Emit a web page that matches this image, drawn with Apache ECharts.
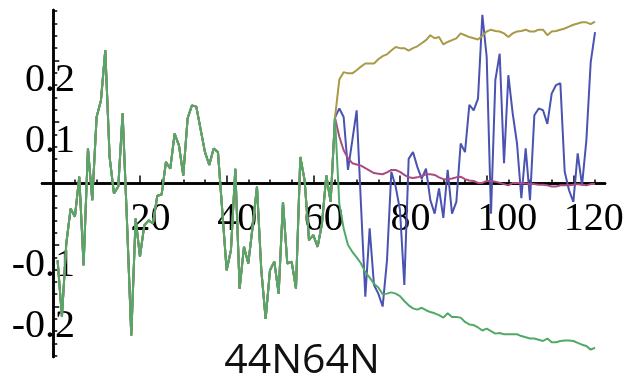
<!DOCTYPE html>
<html>
<head>
<meta charset="utf-8">
<script src="https://cdn.jsdelivr.net/npm/echarts@6/dist/echarts.min.js"></script>
<style>
  html, body { margin: 0; padding: 0; background: #fff; }
  #chart { width: 627px; height: 380px; }
</style>
</head>
<body>
<div id="chart"></div>
<script>
// Shared values for steps 1..65 (all four series coincide here)
const commonValues = [
  -0.125, -0.217, -0.098, -0.041, -0.054, 0.011, -0.133, 0.057, -0.027, 0.108,
  0.135, 0.217, 0.043, -0.016, -0.005, 0.114, -0.060, -0.247, -0.057, -0.119,
  -0.068, -0.060, -0.065, -0.020, -0.018, 0.035, 0.024, 0.081, 0.062, 0.013,
  0.106, 0.127, 0.125, 0.088, 0.051, 0.030, 0.057, 0.051, -0.045, -0.141,
  -0.108, 0.024, -0.171, -0.103, -0.130, -0.070, -0.005, -0.141, -0.220, -0.141,
  -0.127, -0.179, -0.030, -0.130, -0.127, -0.171, 0.043, 0.005, -0.092, -0.084,
  -0.103, -0.065, 0.013, -0.030, 0.107
];

// Steps 66..125 for each series
const blueTail = [
  0.122, 0.108, 0.022, 0.070, 0.119, -0.035, -0.184, -0.073, -0.165, -0.179,
  -0.200, -0.125, 0.019, -0.005, -0.043, -0.165, 0.040, 0.051, 0.027, 0.008,
  0.024, -0.027, -0.049, -0.008, -0.056, 0.022, -0.049, -0.030, 0.065, 0.051,
  0.128, 0.119, 0.138, 0.274, 0.206, -0.049, 0.168, 0.211, 0.033, 0.176,
  0.114, 0.065, -0.024, 0.057, -0.027, 0.111, 0.122, 0.119, 0.097, 0.146,
  0.160, 0.163, 0.019, -0.011, -0.030, 0.049, -0.003, 0.070, 0.197, 0.246
];
const magentaTail = [
  0.076, 0.054, 0.041, 0.033, 0.031, 0.029, 0.025, 0.021, 0.017, 0.016,
  0.015, 0.018, 0.022, 0.022, 0.019, 0.014, 0.010, 0.009, 0.010, 0.012,
  0.015, 0.015, 0.014, 0.010, 0.007, 0.007, 0.008, 0.010, 0.011, 0.007,
  0.005, 0.004, 0.001, 0.001, 0.004, 0.004, 0.003, 0.001, -0.001, -0.003,
  0.001, 0.001, 0.001, 0.000, -0.001, -0.001, -0.002, -0.002, -0.003, -0.005,
  -0.005, -0.003, -0.003, -0.003, -0.002, -0.001, -0.002, -0.003, -0.001, -0.001
];
const oliveTail = [
  0.169, 0.181, 0.179, 0.179, 0.184, 0.190, 0.195, 0.195, 0.195, 0.202,
  0.207, 0.210, 0.216, 0.222, 0.220, 0.220, 0.216, 0.220, 0.223, 0.228,
  0.233, 0.241, 0.236, 0.238, 0.226, 0.230, 0.233, 0.236, 0.244, 0.241,
  0.238, 0.236, 0.234, 0.240, 0.247, 0.250, 0.248, 0.247, 0.244, 0.238,
  0.244, 0.247, 0.248, 0.250, 0.247, 0.247, 0.250, 0.250, 0.241, 0.247,
  0.248, 0.250, 0.252, 0.255, 0.258, 0.260, 0.262, 0.262, 0.259, 0.263
];
const greenTail = [
  -0.033, -0.073, -0.100, -0.111, -0.120, -0.130, -0.144, -0.153, -0.163, -0.169,
  -0.180, -0.179, -0.177, -0.179, -0.183, -0.191, -0.198, -0.203, -0.205, -0.202,
  -0.206, -0.209, -0.211, -0.214, -0.218, -0.211, -0.217, -0.217, -0.218, -0.225,
  -0.229, -0.230, -0.234, -0.239, -0.236, -0.240, -0.244, -0.243, -0.245, -0.245,
  -0.245, -0.245, -0.248, -0.250, -0.252, -0.252, -0.254, -0.256, -0.252, -0.258,
  -0.258, -0.256, -0.255, -0.255, -0.256, -0.259, -0.262, -0.264, -0.270, -0.267
];

// Tick labels
const xTickLabels = [20, 40, 60, 80, 100, 120];
const yTickLabels = [-0.2, -0.1, 0.1, 0.2];
const chartTitle = '44N64N';

const seriesColors = ['#4a52b2', '#a84c82', '#a99a48', '#52a866'];

function toPairs(tail) {
  return commonValues.concat(tail).map((v, i) => [i + 1, v]);
}

// Minor tick positions
const xMinor = [];
for (let v = 5; v <= 125; v += 5) if (v % 20 !== 0) xMinor.push(v);
const yMinor = [];
for (let k = -14; k <= 14; k++) if (k !== 0 && k % 5 !== 0) yMinor.push(k / 50);

const X_MIN = -2.6, X_MAX = 127.3, Y_MIN = -0.282, Y_MAX = 0.282;
const axisColor = '#000';
const labelFont = {
  fontFamily: 'Liberation Serif',
  fontSize: 40,
  lineHeight: 40,
  color: '#000'
};

const chart = echarts.init(document.getElementById('chart'), null, { renderer: 'canvas' });
chart.setOption({
  animation: false,
  backgroundColor: '#fff',
  title: {
    text: chartTitle,
    left: 302,
    top: 341,
    padding: 0,
    textAlign: 'center',
    textStyle: { fontFamily: 'Open Sans', fontSize: 41, fontWeight: 'normal', color: '#111' }
  },
  grid: { left: 42, right: 22, top: 10, bottom: 23, containLabel: false, outerBoundsMode: 'none' },
  xAxis: [
    {
      type: 'value', min: X_MIN, max: X_MAX, position: 'bottom',
      axisLine: { show: true, onZero: true, lineStyle: { color: axisColor, width: 2.5 } },
      axisTick: { show: true, inside: true, length: 8, customValues: xTickLabels, lineStyle: { color: axisColor, width: 1.5 } },
      axisLabel: { show: false },
      splitLine: { show: false }
    },
    {
      type: 'value', min: X_MIN, max: X_MAX, position: 'bottom',
      axisLine: { show: true, onZero: true, lineStyle: { color: axisColor, width: 2.5 } },
      axisTick: { show: true, inside: true, length: 4, customValues: xMinor, lineStyle: { color: axisColor, width: 1.5 } },
      axisLabel: { show: false },
      splitLine: { show: false }
    },
    {
      // label-only axis anchored at the grid's bottom edge
      type: 'value', min: X_MIN, max: X_MAX, position: 'bottom',
      axisLine: { show: false, onZero: false },
      axisTick: { show: false },
      axisLabel: Object.assign({
        show: true, customValues: xTickLabels, align: 'left', verticalAlign: 'top',
        margin: -158, padding: [0, 0, 0, -9.5]
      }, labelFont),
      splitLine: { show: false }
    }
  ],
  yAxis: [
    {
      type: 'value', min: Y_MIN, max: Y_MAX, position: 'left',
      axisLine: { show: true, onZero: true, lineStyle: { color: axisColor, width: 2.5 } },
      axisTick: { show: true, inside: true, length: 6, customValues: yTickLabels, lineStyle: { color: axisColor, width: 1.5 } },
      axisLabel: { show: false },
      splitLine: { show: false }
    },
    {
      type: 'value', min: Y_MIN, max: Y_MAX, position: 'left',
      axisLine: { show: true, onZero: true, lineStyle: { color: axisColor, width: 2.5 } },
      axisTick: { show: true, inside: true, length: 4, customValues: yMinor, lineStyle: { color: axisColor, width: 1.5 } },
      axisLabel: { show: false },
      splitLine: { show: false }
    },
    {
      // label-only axis anchored at the grid's left edge
      type: 'value', min: Y_MIN, max: Y_MAX, position: 'left',
      axisLine: { show: false, onZero: false },
      axisTick: { show: false },
      axisLabel: Object.assign({
        show: true, customValues: yTickLabels, align: 'right', verticalAlign: 'top',
        margin: -33,
        formatter: v => String(Math.round(v * 10) / 10)
      }, labelFont),
      splitLine: { show: false }
    }
  ],
  series: [
    { name: 'blue', data: toPairs(blueTail), color: seriesColors[0] },
    { name: 'magenta', data: toPairs(magentaTail), color: seriesColors[1] },
    { name: 'olive', data: toPairs(oliveTail), color: seriesColors[2] },
    { name: 'green', data: toPairs(greenTail), color: seriesColors[3] }
  ].map(s => ({
    type: 'line',
    name: s.name,
    xAxisIndex: 0,
    yAxisIndex: 0,
    data: s.data,
    showSymbol: false,
    symbol: 'none',
    lineStyle: { width: 2, color: s.color },
    itemStyle: { color: s.color },
    z: 2
  }))
});
</script>
</body>
</html>
